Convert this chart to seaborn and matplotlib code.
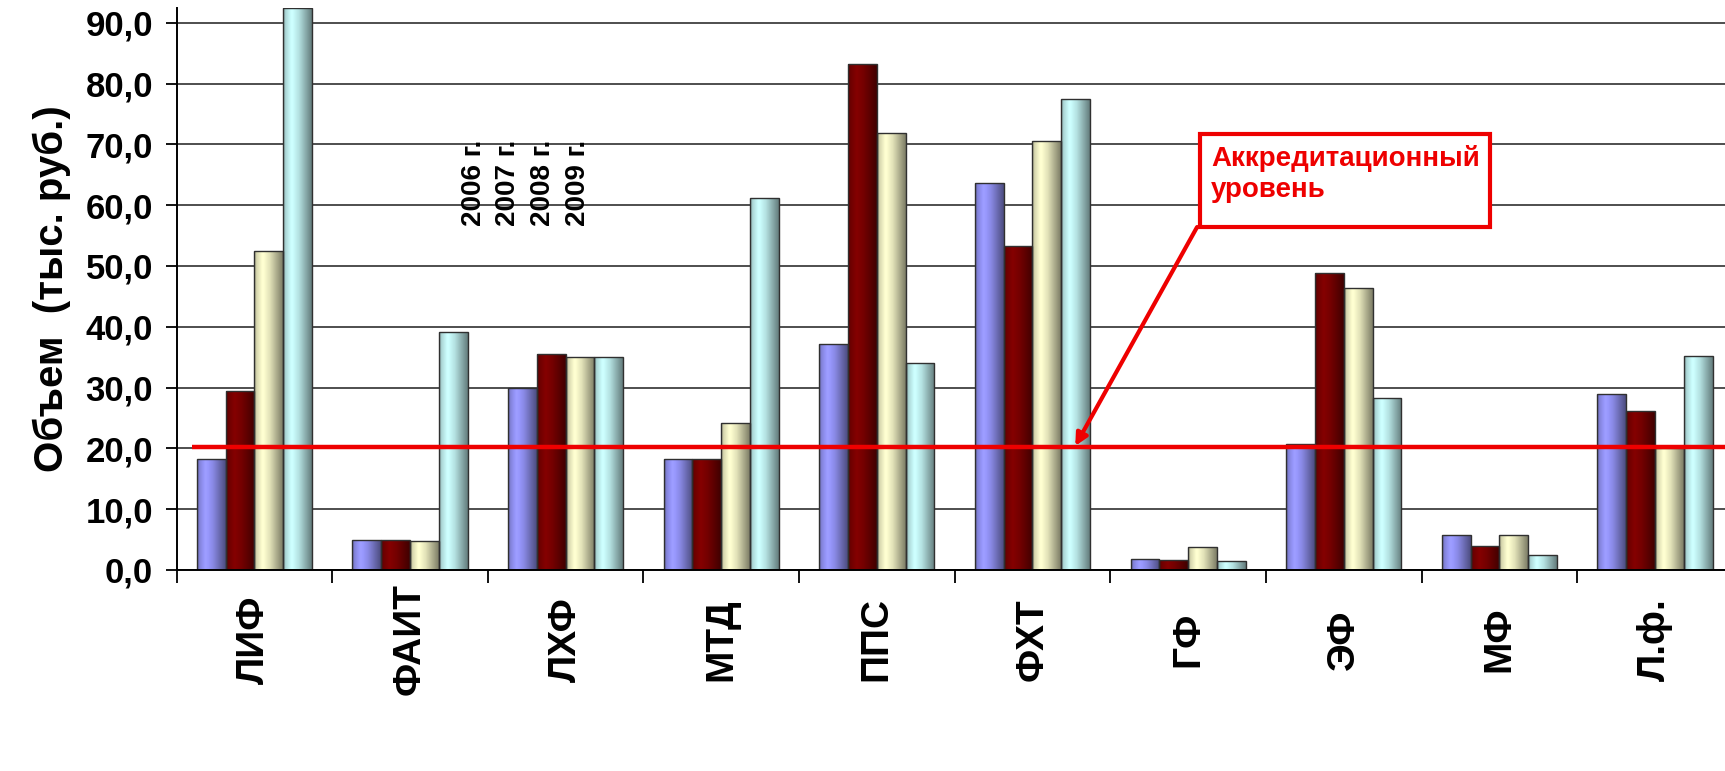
import numpy as np
import pandas as pd
import matplotlib
matplotlib.use("Agg")
import matplotlib.pyplot as plt
import matplotlib.patches as mpatches
from matplotlib.ticker import FuncFormatter, FixedLocator
from matplotlib.colors import to_rgb
import seaborn as sns

# ---------------- data ----------------
categories = ["ЛИФ", "ФАИТ", "ЛХФ", "МТД", "ППС", "ФХТ", "ГФ", "ЭФ", "МФ", "Л.ф."]
years = ["2006 г.", "2007 г.", "2008 г.", "2009 г."]
v2006 = [18.2, 5.0, 30.0, 18.3, 37.2, 63.6, 1.8, 20.8, 5.7, 28.9]
v2007 = [29.4, 5.0, 35.6, 18.3, 83.2, 53.2, 1.6, 48.9, 4.0, 26.1]
v2008 = [52.4, 4.7, 35.0, 24.1, 71.8, 70.5, 3.8, 46.3, 5.7, 20.0]
v2009 = [92.5, 39.2, 35.0, 61.2, 34.0, 77.4, 1.4, 28.3, 2.5, 35.2]
accreditation_level = 20.3
y_ticks = [0, 10, 20, 30, 40, 50, 60, 70, 80, 90]
ylabel = "Объем  (тыс. руб.)"
note_text = "Аккредитационный\nуровень"

colors = ["#9999FF", "#800000", "#FAFACC", "#C8FAFA"]

rows = []
for yr, vals in zip(years, [v2006, v2007, v2008, v2009]):
    for c, v in zip(categories, vals):
        rows.append({"cat": c, "year": yr, "val": v})
df = pd.DataFrame(rows)

# ---------------- style ----------------
sns.set_style("white")
plt.rcParams["font.family"] = ["Liberation Sans", "DejaVu Sans"]
plt.rcParams["font.weight"] = "bold"
for k in ["text.color", "axes.labelcolor", "xtick.color", "ytick.color"]:
    plt.rcParams[k] = "black"

W, H = 1725, 771
fig = plt.figure(figsize=(W / 100, H / 100), dpi=100)
ax_left, ax_bottom, ax_top = 176.5, 570, 7.5
ax = fig.add_axes([ax_left / W, 1 - ax_bottom / H, (W - ax_left) / W, (ax_bottom - ax_top) / H])

sns.barplot(data=df, x="cat", y="val", hue="year", order=categories, hue_order=years,
            palette=colors, width=0.74, gap=0, edgecolor="#303030", linewidth=1.0,
            legend=False, ax=ax, zorder=3)

# cylinder-like horizontal shading of each bar
t = np.linspace(0, 1, 80)
prof = np.interp(t, [0, 0.08, 0.3, 0.55, 1.0], [0.6, 0.85, 1.04, 0.9, 0.5])
for cont, col in zip(ax.containers, colors):
    base = np.array(to_rgb(col))
    img = np.clip(base[None, :] * prof[:, None], 0, 1)[None, :, :]
    for p in cont.patches:
        x0, w, h = p.get_x(), p.get_width(), p.get_height()
        im = ax.imshow(img, extent=(x0, x0 + w, 0, h), aspect="auto", zorder=3.5,
                       interpolation="bilinear")
        im.set_clip_path(p)
        p.set_zorder(3.6)
        p.set_facecolor("none")

ax.set_ylim(0, 92.5)
ax.set_xlim(-0.5, 9.45)

# grid & spines
ax.set_axisbelow(True)
ax.yaxis.grid(True, color="#404040", linewidth=1.3)
ax.xaxis.grid(False)
for s in ["top", "right"]:
    ax.spines[s].set_visible(False)
for s in ["left", "bottom"]:
    ax.spines[s].set_color("black")
    ax.spines[s].set_linewidth(1.4)
    ax.spines[s].set_zorder(5)

ax.set_yticks(y_ticks)
ax.yaxis.set_major_formatter(FuncFormatter(lambda v, p: f"{v:.1f}".replace(".", ",")))
ax.tick_params(axis="y", which="major", length=8, width=1.3, color="black",
               labelsize=25, pad=9, left=True, direction="out", labelcolor="black")
for lbl in ax.get_yticklabels():
    lbl.set_fontweight("bold")

ax.set_xticks(range(len(categories)))
ax.set_xticklabels(categories, rotation=90, fontsize=28, fontweight="bold", color="black")
ax.tick_params(axis="x", which="major", length=0, pad=50)
for lbl in ax.get_xticklabels():
    lbl.set_va("center")
ax.xaxis.set_minor_locator(FixedLocator(np.arange(-0.5, len(categories), 1.0)))
ax.tick_params(axis="x", which="minor", length=9, width=1.3, color="black", bottom=True,
               direction="out")

ax.set_xlabel("")
ax.set_ylabel(ylabel, fontsize=29, fontweight="bold", labelpad=10, color="black")

# accreditation level line
ax.plot([-0.4, 9.45], [accreditation_level, accreditation_level], color="#EE0000",
        linewidth=3.2, zorder=6, solid_capstyle="butt")

# rotated legend texts
leg_x = [1.41, 1.63, 1.855, 2.08]
for x, yr in zip(leg_x, years):
    ax.text(x, 70.8, yr, rotation=90, ha="center", va="top", fontsize=20,
            fontweight="bold", color="black", zorder=7)

# annotation box
rx0, rx1 = 6.078, 7.94
ry0, ry1 = 56.4, 71.7
ax.add_patch(mpatches.Rectangle((rx0, ry0), rx1 - rx0, ry1 - ry0, fill=True,
                                facecolor="white", edgecolor="#EE0000", linewidth=3, zorder=7))
ax.text(rx0 + 0.07, ry1 - 1.8, note_text, ha="left", va="top", fontsize=20,
        fontweight="bold", color="#EE0000", linespacing=1.25, zorder=8)
ax.annotate("", xy=(5.275, accreditation_level + 0.1), xytext=(rx0 - 0.02, ry0),
            arrowprops=dict(arrowstyle="-|>", color="#EE0000", lw=3, mutation_scale=18,
                            shrinkA=0, shrinkB=0), zorder=8)

fig.savefig("out.png", dpi=100)
